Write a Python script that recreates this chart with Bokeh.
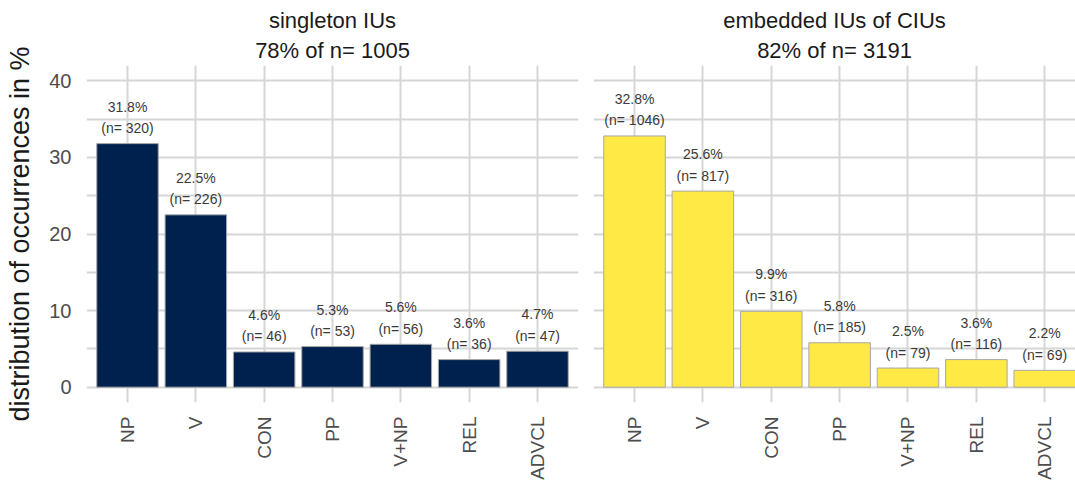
import math
from bokeh.plotting import figure
from bokeh.layouts import row
from bokeh.models import Range1d, FixedTicker, Title, ColumnDataSource
from bokeh.core.properties import value
from bokeh.embed import file_html
from bokeh.resources import INLINE

categories = ["NP", "V", "CON", "PP", "V+NP", "REL", "ADVCL"]

singleton_pct = [31.8, 22.5, 4.6, 5.3, 5.6, 3.6, 4.7]
singleton_n = [320, 226, 46, 53, 56, 36, 47]
embedded_pct = [32.8, 25.6, 9.9, 5.8, 2.5, 3.6, 2.2]
embedded_n = [1046, 817, 316, 185, 79, 116, 69]

titles_left = ["singleton IUs", "78% of n= 1005"]
titles_right = ["embedded IUs of CIUs", "82% of n= 3191"]

y_ticks = [0, 10, 20, 30, 40]
y_minor = [5, 15, 25, 35]
y_title = "distribution of occurrences in %"

FONT = "Liberation Sans"
GRID = "#D6D6D6"
H = 487


def make_panel(pct, ns, color, titles, width, x_end, show_y, bl, br):
    xs = list(range(1, len(categories) + 1))
    p = figure(width=width, height=H,
               x_range=Range1d(0.4, x_end), y_range=Range1d(-2, 42),
               output_backend="svg", toolbar_location=None,
               min_border_left=bl, min_border_right=br,
               min_border_top=65, min_border_bottom=85)
    p.outline_line_color = None
    p.background_fill_color = "white"
    p.border_fill_color = "white"

    src = ColumnDataSource(dict(
        x=xs, top=pct,
        pl=[f"{v:.1f}%" for v in pct],
        nl=[f"(n= {n})" for n in ns]))
    p.vbar(x="x", top="top", bottom=0, width=0.9, source=src,
           fill_color=color, line_color="#A8A8A8", line_width=1)
    p.text(x="x", y="top", text="nl", source=src, y_offset=-15.5,
           text_align="center", text_baseline="middle",
           text_font=value(FONT), text_font_size="14px", text_color="#3A3A3A")
    p.text(x="x", y="top", text="pl", source=src, y_offset=-37,
           text_align="center", text_baseline="middle",
           text_font=value(FONT), text_font_size="14px", text_color="#3A3A3A")

    # x axis
    xt = FixedTicker(ticks=xs)
    p.xaxis.ticker = xt
    p.xaxis.major_label_overrides = {x: c for x, c in zip(xs, categories)}
    p.xaxis.major_label_orientation = math.pi / 2
    p.xaxis.axis_line_color = None
    p.xaxis.major_tick_line_color = None
    p.xaxis.minor_tick_line_color = None
    p.xaxis.major_tick_out = 0
    p.xaxis.major_tick_in = 0
    p.xaxis.major_label_standoff = 14
    p.xaxis.major_label_text_font = FONT
    p.xaxis.major_label_text_font_size = "19px"
    p.xaxis.major_label_text_color = "#4D4D4D"
    p.xgrid.ticker = xt
    p.xgrid.grid_line_color = GRID
    p.xgrid.grid_line_width = 2

    # y axis
    yt = FixedTicker(ticks=y_ticks, minor_ticks=y_minor)
    p.yaxis.ticker = yt
    p.ygrid.ticker = yt
    p.ygrid.grid_line_color = GRID
    p.ygrid.grid_line_width = 2
    p.ygrid.minor_grid_line_color = GRID
    p.ygrid.minor_grid_line_width = 2
    p.yaxis.axis_line_color = None
    p.yaxis.major_tick_line_color = None
    p.yaxis.minor_tick_line_color = None
    p.yaxis.major_tick_out = 0
    p.yaxis.major_tick_in = 0
    p.yaxis.minor_tick_out = 0
    p.yaxis.minor_tick_in = 0
    if show_y:
        p.yaxis.major_label_standoff = 15
        p.yaxis.major_label_text_font = FONT
        p.yaxis.major_label_text_font_size = "20px"
        p.yaxis.major_label_text_color = "#4D4D4D"
        p.yaxis.axis_label = y_title
        p.yaxis.axis_label_text_font = FONT
        p.yaxis.axis_label_text_font_size = "27px"
        p.yaxis.axis_label_text_font_style = "normal"
        p.yaxis.axis_label_text_color = "#1A1A1A"
        p.yaxis.axis_label_standoff = 11
    else:
        p.yaxis.visible = False

    for i, t in enumerate(reversed(titles)):
        p.add_layout(Title(text=t, align="center", text_font=FONT,
                           text_font_size="22px", text_font_style="normal",
                           text_line_height=0.85,
                           text_color="#1A1A1A",
                           standoff=6 if i == 0 else 0, offset=0), "above")
    return p


p1 = make_panel(singleton_pct, singleton_n, "#00204D", titles_left,
                585, 7.6, True, 86, 7)
p2 = make_panel(embedded_pct, embedded_n, "#FFE945", titles_right,
                490, 7.45, False, 8, 0)

layout = row(p1, p2)
open("out.html", "w").write(file_html(layout, INLINE))
